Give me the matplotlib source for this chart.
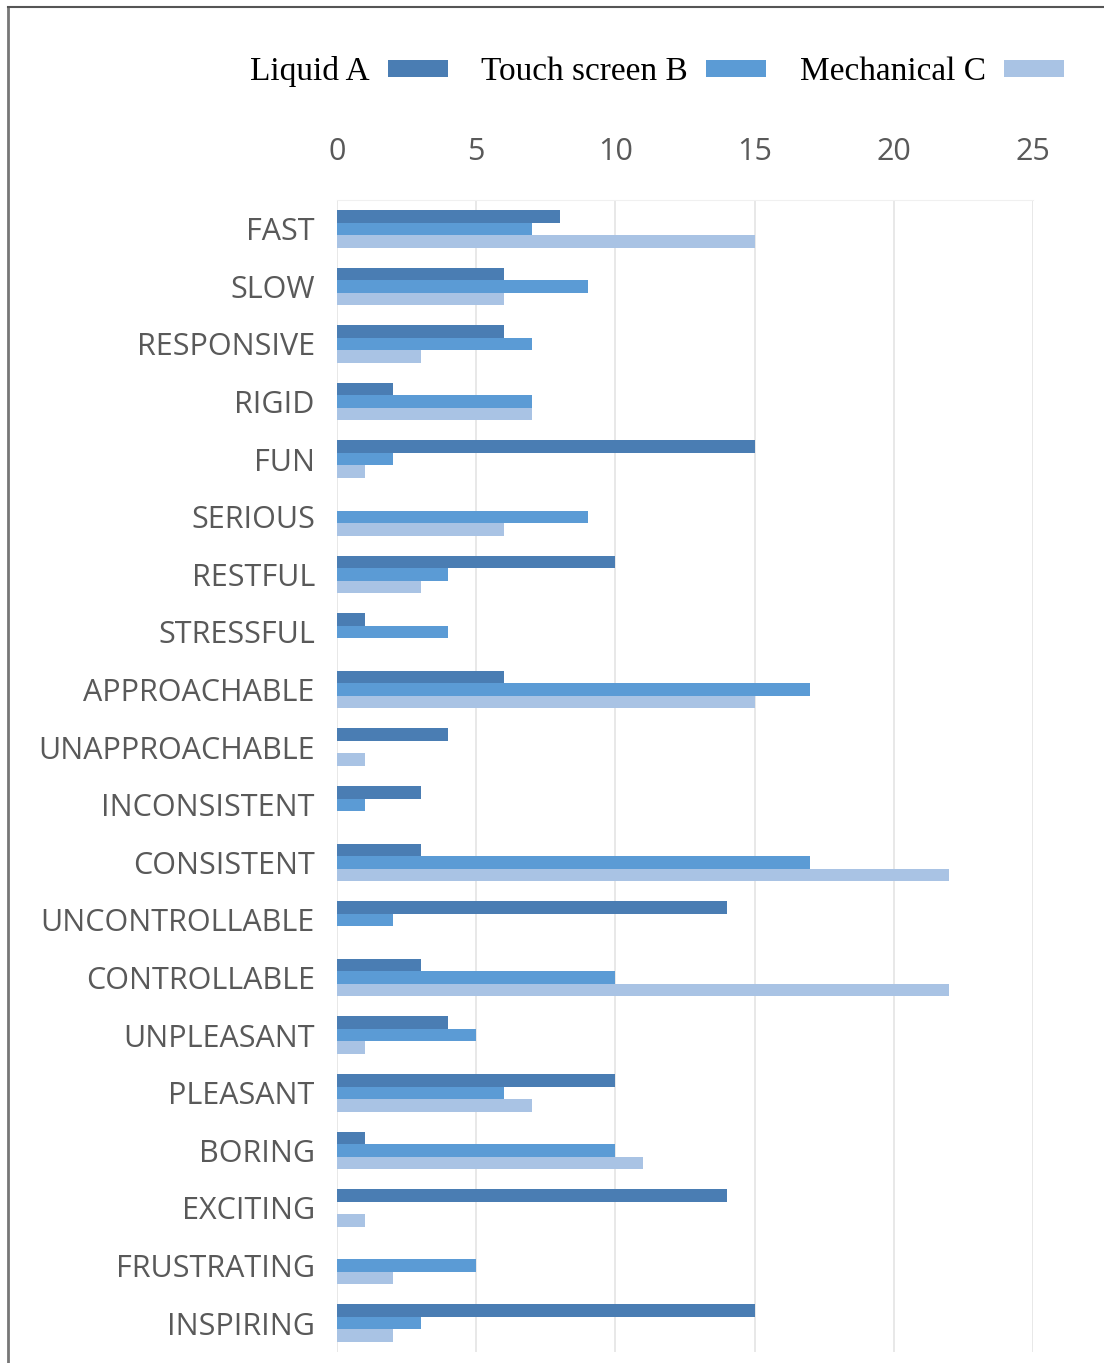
import numpy as np
import matplotlib.pyplot as plt
from matplotlib.lines import Line2D

categories = ['FAST', 'SLOW', 'RESPONSIVE', 'RIGID', 'FUN', 'SERIOUS', 'RESTFUL',
              'STRESSFUL', 'APPROACHABLE', 'UNAPPROACHABLE', 'INCONSISTENT',
              'CONSISTENT', 'UNCONTROLLABLE', 'CONTROLLABLE', 'UNPLEASANT',
              'PLEASANT', 'BORING', 'EXCITING', 'FRUSTRATING', 'INSPIRING']

liquid_a = [8, 6, 6, 2, 15, 0, 10, 1, 6, 4, 3, 3, 14, 3, 4, 10, 1, 14, 0, 15]
touch_b = [7, 9, 7, 7, 2, 9, 4, 4, 17, 0, 1, 17, 2, 10, 5, 6, 10, 0, 5, 3]
mech_c = [15, 6, 3, 7, 1, 6, 3, 0, 15, 1, 0, 22, 0, 22, 1, 7, 11, 1, 2, 2]

series = ['Liquid A', 'Touch screen B', 'Mechanical C']
colors = ['#4a7db3', '#5b9bd5', '#a9c3e4']

fig = plt.figure(figsize=(11.04, 13.63), dpi=100)
ax = fig.add_axes([0.3053, 0.0081, 0.6304, 0.8452])

y = np.arange(len(categories))
h = 0.217
for i, (vals, col, name) in enumerate(zip([liquid_a, touch_b, mech_c], colors, series)):
    ax.barh(y + (i - 1) * h, vals, height=h, color=col, label=name, zorder=3)

ax.set_xlim(0, 25)
ax.set_ylim(len(categories) - 0.5, -0.5)
ax.set_xticks([0, 5, 10, 15, 20, 25])
ax.set_yticks(y)
ax.set_yticklabels(categories)

ax.xaxis.tick_top()
ax.tick_params(axis='x', length=0, pad=24, labelsize=22, labelcolor='#595959')
ax.tick_params(axis='y', length=0, pad=16, labelsize=22, labelcolor='#595959')
for lab in ax.get_xticklabels() + ax.get_yticklabels():
    lab.set_fontfamily('Open Sans')

ax.grid(axis='x', color='#e6e6e6', linewidth=1.3, zorder=0)
for s in ['left', 'right', 'bottom']:
    ax.spines[s].set_visible(False)
ax.spines['top'].set_color('#f0f0f0')

leg = fig.legend(loc='center', bbox_to_anchor=(0.595, 0.9475), ncol=3, frameon=False,
                 markerfirst=False, handlelength=1.8, handleheight=0.42,
                 handletextpad=0.55, columnspacing=1.0,
                 prop={'family': 'Liberation Serif', 'size': 24})

# thin frame along the top and left edges
fig.add_artist(Line2D([0.0075, 0.0075], [0, 0.995], transform=fig.transFigure,
                      color='#777777', linewidth=2))
fig.add_artist(Line2D([0.0075, 1], [0.995, 0.995], transform=fig.transFigure,
                      color='#555555', linewidth=1.5))

fig.savefig('out.png', dpi=100)
